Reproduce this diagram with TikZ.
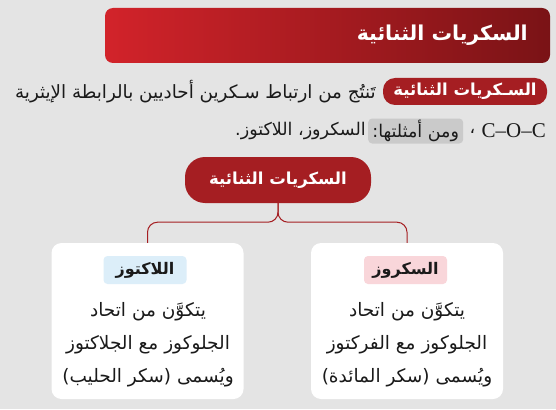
\documentclass[tikz,border=0pt]{standalone}
\usepackage{fontspec}
\newfontfamily\arabicfont[Script=Arabic]{DejaVu Sans}
\newfontfamily\bondfont[Ligatures=TeX]{Liberation Serif}
\TeXXeTstate=1
\usetikzlibrary{positioning}
\definecolor{bgray}{HTML}{E4E4E4}
\definecolor{ink}{HTML}{1A1A1A}
\definecolor{redL}{HTML}{D2232A}
\definecolor{redR}{HTML}{7A1316}
\definecolor{darkred}{HTML}{A51E22}
\definecolor{markgray}{HTML}{CACACA}
\definecolor{bluetag}{HTML}{DCEEF9}
\definecolor{pinktag}{HTML}{F9D6DA}
\newcommand{\artxt}[1]{\beginR #1\endR}

\begin{document}
\begin{tikzpicture}[x=1pt, y=-1pt,
  every node/.style={inner sep=0pt, text=ink},
  arab/.style={font=\arabicfont\fontsize{#1}{33}\selectfont},
  arab/.default=18.5,
  arabbold/.style={font=\arabicfont\bfseries\fontsize{#1}{20}\selectfont},
  arabbold/.default=16.5,
  pill/.style={fill=darkred, text=white, rounded corners=#1},
  tag/.style={arabbold=16, fill=#1, rounded corners=4pt, minimum width=83pt, minimum height=28pt},
  card/.style={fill=white, rounded corners=10pt, minimum width=192pt, minimum height=156pt},
  link/.style={draw=darkred, line width=1pt, rounded corners=10pt}]
  % background and heading
  \fill[bgray] (0,0) rectangle (556,409);
  \node[left color=redL, right color=redR, rounded corners=8pt,
        minimum width=445pt, minimum height=55pt] (bar) at (327.5,35.5) {};
  \node[arabbold=20.5, text=white, anchor=east] (head) at (528,35)
    {\artxt{السكريات الثنائية}};
  % definition
  \node[arabbold=16.5, pill=12pt, minimum width=164pt, minimum height=27pt] (def)
    at (465,91.5) {\artxt{السـكريات الثنائية}};
  \node[arab=18.3, anchor=east] (deftext) at (376,92)
    {\artxt{تَنتُج من ارتباط سـكرين أحاديين بالرابطة الإيثرية}};
  \node[anchor=east, font=\bondfont\fontsize{21}{22}\selectfont] (coc) at (546,131) {C–O–C};
  \node[arab=17.5, left=6pt of coc] (comma) {\artxt{،}};
  \node[arab=17.5, fill=markgray, rounded corners=4pt, minimum height=25pt,
        minimum width=95pt, left=6pt of comma] (ex) {\artxt{ومن أمثلتها:}};
  \node[arab=17.5, left=2pt of ex] (names) {\artxt{السكروز، اللاكتوز.}};
  % tree
  \node[arabbold=16.5, pill=20pt, minimum width=186pt, minimum height=46pt] (mid)
    at (278,180) {\artxt{السكريات الثنائية}};
  \node[card] (lbox) at (147.5,321) {};
  \node[card] (rbox) at (407,321) {};
  \draw[link] (mid.south) -- ++(0,19) -| (lbox.north);
  \draw[link] (mid.south) -- ++(0,19) -| (rbox.north);
  \node[tag=bluetag] (ltag) at (145,270) {\artxt{اللاكتوز}};
  \node[tag=pinktag] (rtag) at (405.5,270) {\artxt{السكروز}};
  \node[arab, align=center] (ltext) at (148,345)
    {\artxt{يتكوَّن من اتحاد}\\ \artxt{الجلوكوز مع الجلاكتوز}\\ \artxt{ويُسمى (سكر الحليب)}};
  \node[arab, align=center] (rtext) at (407,345)
    {\artxt{يتكوَّن من اتحاد}\\ \artxt{الجلوكوز مع الفركتوز}\\ \artxt{ويُسمى (سكر المائدة)}};
\end{tikzpicture}
\end{document}
